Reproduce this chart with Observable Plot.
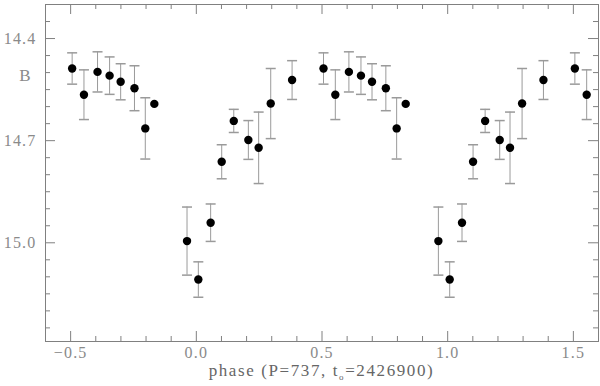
<!DOCTYPE html>
<html>
<head>
<meta charset="utf-8">
<script src="https://cdn.jsdelivr.net/npm/d3@7"></script>
<script src="https://cdn.jsdelivr.net/npm/@observablehq/plot@0.6"></script>
<style>
  html, body { margin: 0; padding: 0; background: #fff; }
  svg text { font-family: "Liberation Serif", "DejaVu Serif", serif !important; }
</style>
</head>
<body>
<div id="chart"></div>
<script>
// Observations (phase in [0,1), B magnitude, error)
const phase = [0.506, 0.553, 0.607, 0.655, 0.699, 0.754, 0.797, 0.833, 0.963,
               0.008, 0.057, 0.101, 0.149, 0.207, 0.248, 0.296, 0.381];
const mag   = [14.488, 14.565, 14.498, 14.509, 14.527, 14.546, 14.664, 14.592, 14.995,
               15.108, 14.941, 14.762, 14.642, 14.698, 14.721, 14.591, 14.522];
const err   = [0.046, 0.073, 0.059, 0.055, 0.053, 0.066, 0.090, 0.000, 0.100,
               0.052, 0.055, 0.050, 0.034, 0.057, 0.105, 0.103, 0.057];

const xDomain = [-0.6, 1.6];
const yDomain = [14.3, 15.29];
const xMajor = [-0.5, 0, 0.5, 1.0, 1.5];
const xMinor = d3.range(-5, 16).map(i => i / 10).filter(v => !xMajor.some(m => Math.abs(m - v) < 1e-9));
const yMajor = [14.4, 14.7, 15.0];
const yMinor = d3.range(287, 306).map(i => i / 20).filter(v => v > 14.3 && v < 15.29 && !yMajor.some(m => Math.abs(m - v) < 1e-9));
const yLabelText = "B";
const yLabelAt = 14.51;

// Build rows: each observation repeated at phase-1, phase, phase+1 when inside the window
const rows = [];
for (let i = 0; i < phase.length; i++) {
  for (const s of [-1, 0, 1]) {
    const x = phase[i] + s;
    if (x >= xDomain[0] && x <= xDomain[1]) rows.push({x, m: mag[i], e: err[i]});
  }
}
const withErr = rows.filter(d => d.e > 0);

const W = 600, H = 386;
const mL = 45, mR = 2, mT = 4, mB = 45;
const pw = W - mL - mR, ph = H - mT - mB;
const axisColor = "#808080";
const errColor = "#9a9a9a";
const FONT = "Liberation Serif, DejaVu Serif, serif";

const cap = { draw(ctx) { ctx.moveTo(-5, 0); ctx.lineTo(5, 0); } };

const plot = Plot.plot({
  width: W, height: H,
  marginLeft: mL, marginRight: mR, marginTop: mT, marginBottom: mB,
  style: { fontFamily: FONT, fontSize: "16px", background: "#fff" },
  x: { domain: xDomain, label: null },
  y: { domain: yDomain, reverse: true, label: null },
  marks: [
    // tick marks inward on four sides
    Plot.ruleX(xMajor, { x: d => d, stroke: axisColor, insetBottom: ph - 10 }),
    Plot.ruleX(xMinor, { x: d => d, stroke: axisColor, insetBottom: ph - 5 }),
    Plot.ruleX(xMajor, { x: d => d, stroke: axisColor, insetTop: ph - 10 }),
    Plot.ruleX(xMinor, { x: d => d, stroke: axisColor, insetTop: ph - 5 }),
    Plot.ruleY(yMajor, { y: d => d, stroke: axisColor, insetRight: pw - 10 }),
    Plot.ruleY(yMinor, { y: d => d, stroke: axisColor, insetRight: pw - 5 }),
    Plot.ruleY(yMajor, { y: d => d, stroke: axisColor, insetLeft: pw - 10 }),
    Plot.ruleY(yMinor, { y: d => d, stroke: axisColor, insetLeft: pw - 5 }),
    Plot.frame({ stroke: axisColor }),
    Plot.axisX({ ticks: xMajor, tickSize: 0, tickPadding: 5, tickFormat: d3.format(".1f"), color: "#8a8a8a", fontSize: 16, fontFamily: FONT }),
    Plot.axisY({ ticks: yMajor, tickSize: 0, tickPadding: 9, tickFormat: d3.format(".1f"), color: "#8a8a8a", fontSize: 16, fontFamily: FONT }),
    // error bars
    Plot.ruleX(withErr, { x: "x", y1: d => d.m - d.e, y2: d => d.m + d.e, stroke: errColor }),
    Plot.dot(withErr, { x: "x", y: d => d.m - d.e, symbol: cap, stroke: errColor, fill: "none", r: 3 }),
    Plot.dot(withErr, { x: "x", y: d => d.m + d.e, symbol: cap, stroke: errColor, fill: "none", r: 3 }),
    // points
    Plot.dot(rows, { x: "x", y: "m", r: 4.2, fill: "#000", stroke: "none" })
  ]
});

const svg = d3.select(plot);
svg.selectAll("text").attr("font-family", FONT).attr("letter-spacing", "1.2");

// y label "B"
svg.append("text")
  .attr("x", 25).attr("y", plot.scale("y").apply(yLabelAt))
  .attr("dy", "0.35em").attr("text-anchor", "middle")
  .attr("font-family", FONT)
  .attr("fill", "#8a8a8a").attr("font-size", 17)
  .text(yLabelText);

// x label with subscript
const xl = svg.append("text")
  .attr("x", mL + pw / 2).attr("y", 376)
  .attr("text-anchor", "middle")
  .attr("font-family", FONT)
  .attr("fill", "#666").attr("font-size", 17).attr("letter-spacing", "1.6");
xl.append("tspan").text("phase (P=737, t");
xl.append("tspan").attr("font-size", 9).attr("dy", 4).text("o");
xl.append("tspan").attr("dy", -4).text("=2426900)");

document.getElementById("chart").appendChild(plot);
</script>
</body>
</html>
